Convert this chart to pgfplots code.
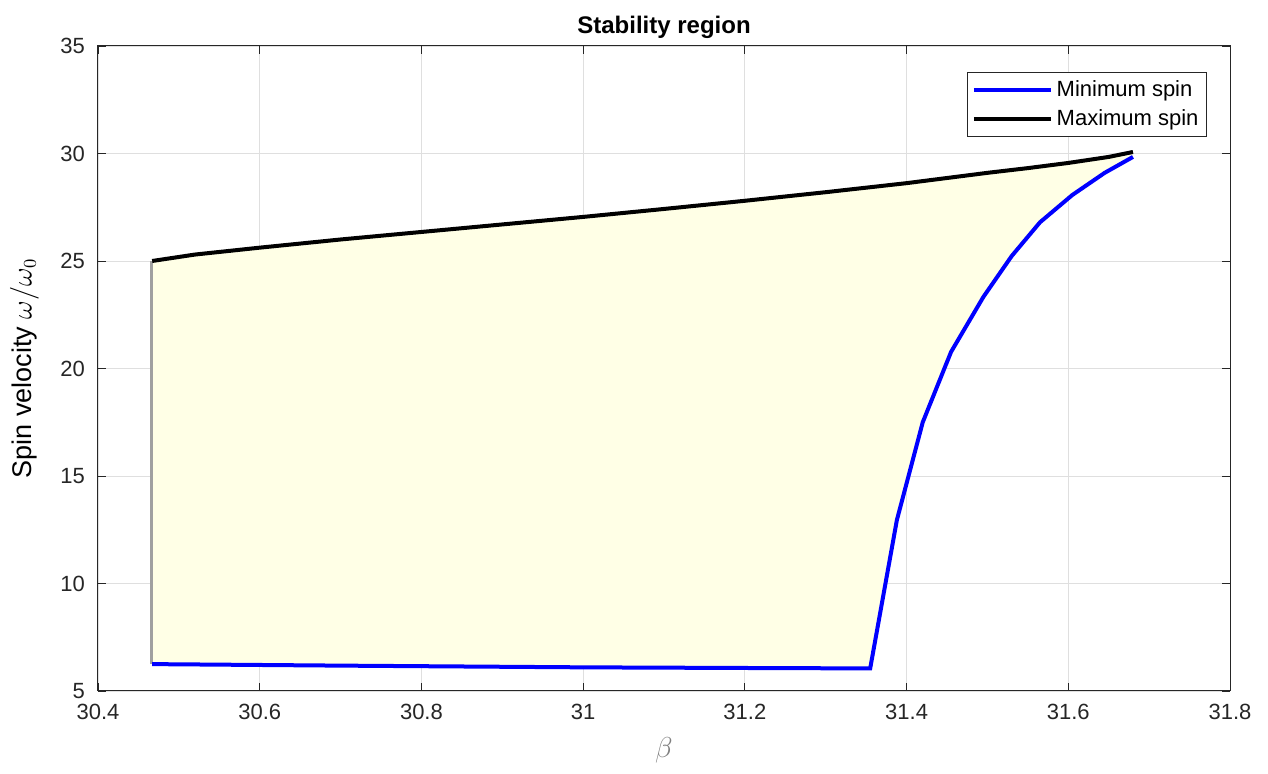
\documentclass[border=0pt]{standalone}
\usepackage{pgfplots}
\pgfplotsset{compat=1.18}
\usepackage{fontspec}
\setmainfont{Liberation Sans}
\definecolor{tickgray}{RGB}{38,38,38}
\definecolor{regionfill}{RGB}{255,255,230}
\definecolor{edgegray}{RGB}{160,160,160}
\begin{document}
\begin{tikzpicture}
\begin{axis}[
  name=ax,
  scale only axis,
  width=566pt, height=322.5pt,
  xmin=30.4, xmax=31.8, ymin=5, ymax=35,
  xtick={30.4,30.6,...,31.8},
  ytick={5,10,...,35},
  xticklabels={30.4,30.6,30.8,31,31.2,31.4,31.6,31.8},
  tick align=inside,
  major tick length=4pt,
  tick style={tickgray, line width=0.4pt},
  axis line style={tickgray, line width=0.5pt},
  grid=major,
  grid style={gray!25, line width=0.4pt},
  ticklabel style={font=\fontsize{11}{13}\selectfont, text=tickgray},
  xticklabel style={yshift=-3pt},
  yticklabel style={xshift=-3pt},
  /pgf/number format/assume math mode=true,
  xlabel={\fontsize{14}{16}\selectfont\color{gray}$\beta$},
  ylabel={\fontsize{13.5}{15}\selectfont Spin velocity $\omega/\omega_0$},
  xlabel style={yshift=-2pt},
  ylabel style={yshift=4pt},
  title={\fontsize{12}{14}\selectfont\bfseries Stability region},
  title style={yshift=-6pt},
  legend style={at={(1,1)}, anchor=north east, xshift=-11.5pt, yshift=-13pt,
    font=\fontsize{11}{13}\selectfont, draw=tickgray, line width=0.5pt,
    inner sep=2pt, row sep=1pt, cells={anchor=west}},
  legend image code/.code={\draw[#1] (0cm,0cm) -- (1.35cm,0cm);},
]
% stable region between the two spin limits
\addplot[fill=regionfill, draw=none, forget plot] coordinates {
 (30.467,25.0) (30.52,25.3) (30.60,25.62) (30.70,26.0) (30.80,26.35) (30.90,26.7)
 (31.00,27.05) (31.10,27.42) (31.20,27.80) (31.30,28.2) (31.40,28.62) (31.45,28.86)
 (31.50,29.10) (31.55,29.32) (31.60,29.56) (31.65,29.84) (31.68,30.07)
 (31.68,29.84) (31.645,29.10) (31.605,28.07) (31.565,26.80) (31.53,25.23)
 (31.495,23.33) (31.455,20.77) (31.42,17.50) (31.388,12.95) (31.355,6.05)
 (30.467,6.25)
} -- cycle;
% left boundary
\addplot[edgegray, line width=1.6pt, forget plot] coordinates {(30.466,6.25) (30.466,25.0)};
\addplot[blue, line width=2pt] coordinates {
 (30.467,6.25) (30.70,6.18) (31.00,6.10) (31.20,6.07) (31.355,6.05)
 (31.388,12.95) (31.42,17.50) (31.455,20.77) (31.495,23.33) (31.53,25.23)
 (31.565,26.80) (31.605,28.07) (31.645,29.10) (31.68,29.84)
};
\addlegendentry{Minimum spin}
\addplot[black, line width=2pt] coordinates {
 (30.467,25.0) (30.52,25.3) (30.60,25.62) (30.70,26.0) (30.80,26.35) (30.90,26.7)
 (31.00,27.05) (31.10,27.42) (31.20,27.80) (31.30,28.2) (31.40,28.62) (31.45,28.86)
 (31.50,29.10) (31.55,29.32) (31.60,29.56) (31.65,29.84) (31.68,30.07)
};
\addlegendentry{Maximum spin}
\end{axis}
\pgfresetboundingbox
\useasboundingbox ([xshift=-49pt,yshift=-41.5pt]ax.south west) rectangle ([xshift=19pt,yshift=23pt]ax.north east);
\end{tikzpicture}
\end{document}
